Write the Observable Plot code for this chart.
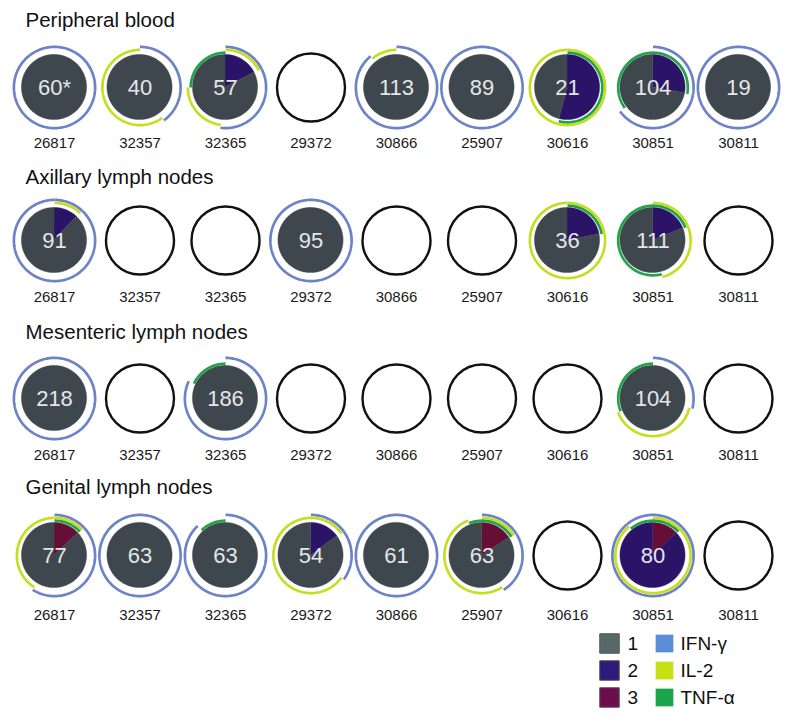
<!DOCTYPE html>
<html>
<head>
<meta charset="utf-8">
<script src="https://cdn.jsdelivr.net/npm/d3@7"></script>
<script src="https://cdn.jsdelivr.net/npm/@observablehq/plot@0.6"></script>
<style>
  html, body { margin: 0; padding: 0; background: #fff; }
  #chart { width: 800px; height: 720px; }
</style>
</head>
<body>
<div id="chart"></div>
<script>
// ---------- data ----------
const animals = ["26817", "32357", "32365", "29372", "30866", "25907", "30616", "30851", "30811"];
const tissues = ["Peripheral blood", "Axillary lymph nodes", "Mesenteric lymph nodes", "Genital lymph nodes"];

// number shown in each pie (null = no data, empty circle)
const countsPB  = ["60*", "40", "57", null, "113", "89", "21", "104", "19"];
const countsAX  = ["91", null, null, "95", null, null, "36", "111", null];
const countsMES = ["218", null, "186", null, null, null, null, "104", null];
const countsGEN = ["77", "63", "63", "54", "61", "63", null, "80", null];

// pie segments clockwise from 12 o'clock: [number of functions, fraction, cytokines]
// cytokines: I = IFN-γ, L = IL-2, T = TNF-α
const segsPB = [
  [[1, 1.00, "I"]],
  [[1, 0.40, "I"], [1, 0.60, "L"]],
  [[2, 0.175, "IL"], [1, 0.345, "I"], [1, 0.23, "L"], [1, 0.25, "T"]],
  null,
  [[1, 0.89, "I"], [1, 0.11, "L"]],
  [[1, 1.00, "I"]],
  [[2, 0.54, "LT"], [1, 0.46, "L"]],
  [[2, 0.28, "IT"], [1, 0.37, "I"], [1, 0.35, "T"]],
  [[1, 1.00, "I"]]
];
const segsAX = [
  [[2, 0.12, "IL"], [1, 0.88, "I"]],
  null,
  null,
  [[1, 1.00, "I"]],
  null,
  null,
  [[2, 0.22, "LT"], [1, 0.78, "L"]],
  [[2, 0.19, "LT"], [1, 0.27, "L"], [1, 0.54, "T"]],
  null
];
const segsMES = [
  [[1, 1.00, "I"]],
  null,
  [[1, 0.82, "I"], [1, 0.18, "T"]],
  null,
  null,
  null,
  null,
  [[1, 0.29, "I"], [1, 0.40, "L"], [1, 0.31, "T"]],
  null
];
const segsGEN = [
  [[3, 0.13, "ILT"], [1, 0.46, "I"], [1, 0.41, "L"]],
  [[1, 1.00, "I"]],
  [[1, 0.88, "I"], [1, 0.12, "T"]],
  [[2, 0.15, "IL"], [1, 0.20, "I"], [1, 0.65, "L"]],
  [[1, 1.00, "I"]],
  [[3, 0.16, "ILT"], [1, 0.25, "I"], [1, 0.53, "L"], [1, 0.06, "T"]],
  null,
  [[3, 0.13, "ILT"], [2, 0.76, "IL"], [2, 0.11, "IT"]],
  null
];

// legend
const legendFunctions = ["1", "2", "3"];
const legendCytokines = ["IFN-γ", "IL-2", "TNF-α"];

// ---------- styles / layout ----------
const sliceColor = {1: "#3e474d", 2: "#2b1468", 3: "#650f37"};
const arcColor = {I: "#6d83c8", L: "#c5de1f", T: "#22a24a"};
const arcRadius = {I: 40.6, L: 37.6, T: 34.8};
const legendFnColor = ["#56696a", "#2e1a7a", "#6e0d4e"];
const legendCytColor = ["#5b8ed8", "#c6e016", "#1ca64b"];

const W = 800, H = 720;
const col0 = 54, colStep = 85.5;
const rowY = [87, 240, 398, 555];
const labelY = [143, 297, 455, 615];
const titleY = [20, 177, 332, 487];
const diskR = 32.6, emptyR = 34;
const font = "'Liberation Sans', Arial, Helvetica, sans-serif";

const panels = [
  {title: tissues[0], counts: countsPB, segs: segsPB},
  {title: tissues[1], counts: countsAX, segs: segsAX},
  {title: tissues[2], counts: countsMES, segs: segsMES},
  {title: tissues[3], counts: countsGEN, segs: segsGEN}
];

function pushArc(target, base, R, t0, t1, cx, cy) {
  const n = Math.max(2, Math.ceil((t1 - t0) * 240));
  for (let j = 0; j <= n; j++) {
    const ang = (t0 + (t1 - t0) * j / n) * 2 * Math.PI;
    target.push({...base, px: cx + R * Math.sin(ang), py: cy - R * Math.cos(ang), cx, cy});
  }
}

const wedges = [], arcs = [], empties = [], values = [], labels = [], titles = [];
panels.forEach((p, r) => {
  titles.push({x: 25, y: titleY[r], text: p.title});
  animals.forEach((a, c) => {
    const cx = col0 + c * colStep, cy = rowY[r];
    labels.push({x: cx, y: labelY[r], text: a});
    const segs = p.segs[c];
    if (!segs) { empties.push({x: cx, y: cy}); return; }
    values.push({x: cx, y: cy, text: p.counts[c]});
    const total = d3.sum(segs, s => s[1]);
    // angular extents
    let acc = 0;
    const ext = segs.map(s => { const t0 = acc / total; acc += s[1]; return {k: s[0], t0, t1: acc / total, cy: s[2]}; });
    // wedges: merge consecutive segments of the same class
    const merged = [];
    ext.forEach(e => {
      const last = merged[merged.length - 1];
      if (last && last.k === e.k) last.t1 = e.t1; else merged.push({k: e.k, t0: e.t0, t1: e.t1});
    });
    merged.forEach((m, i) => pushArc(wedges, {id: `${r}-${c}-${i}`, fill: sliceColor[m.k]}, diskR, m.t0, m.t1, cx, cy));
    // arcs per cytokine
    ext.forEach((e, i) => {
      for (const ch of e.cy) pushArc(arcs, {id: `${r}-${c}-${i}${ch}`, stroke: arcColor[ch]}, arcRadius[ch], e.t0, e.t1, cx, cy);
    });
  });
});

const legX1 = 609, legX2 = 664, legY0 = 643, legStep = 27;
const legFn = legendFunctions.map((t, i) => ({x: legX1, y: legY0 + i * legStep, text: t, fill: legendFnColor[i]}));
const legCy = legendCytokines.map((t, i) => ({x: legX2, y: legY0 + i * legStep, text: t, fill: legendCytColor[i]}));

const chart = Plot.plot({
  width: W, height: H, margin: 0,
  style: {background: "#fff", fontFamily: font},
  x: {domain: [0, W], range: [0, W], axis: null},
  y: {domain: [0, H], range: [0, H], axis: null},
  color: {type: "identity"},
  marks: [
    Plot.area(wedges, {x1: "px", y1: "py", x2: "cx", y2: "cy", z: "id", fill: "fill", stroke: "fill", strokeWidth: 0.4, curve: "linear"}),
    Plot.line(arcs, {x: "px", y: "py", z: "id", stroke: "stroke", strokeWidth: 2.7, strokeLinecap: "butt", curve: "linear"}),
    Plot.dot(empties, {x: "x", y: "y", r: emptyR, stroke: "#111", strokeWidth: 2.4, fill: "none"}),
    Plot.text(values, {x: "x", y: "y", text: "text", fill: "#e4e6e8", fontSize: 22}),
    Plot.text(labels, {x: "x", y: "y", text: "text", fill: "#1a1a1a", fontSize: 15}),
    Plot.text(titles, {x: "x", y: "y", text: "text", fill: "#111", fontSize: 20.5, textAnchor: "start"}),
    Plot.dot(legFn, {x: "x", y: "y", symbol: "square", r: 11, fill: "fill", stroke: "#555", strokeWidth: 1}),
    Plot.text(legFn, {x: d => d.x + 18, y: "y", text: "text", fill: "#111", fontSize: 19, textAnchor: "start"}),
    Plot.dot(legCy, {x: "x", y: "y", symbol: "square", r: 10, fill: "fill"}),
    Plot.text(legCy, {x: d => d.x + 16, y: "y", text: "text", fill: "#111", fontSize: 19, textAnchor: "start"})
  ]
});
document.getElementById("chart").appendChild(chart);
</script>
</body>
</html>
